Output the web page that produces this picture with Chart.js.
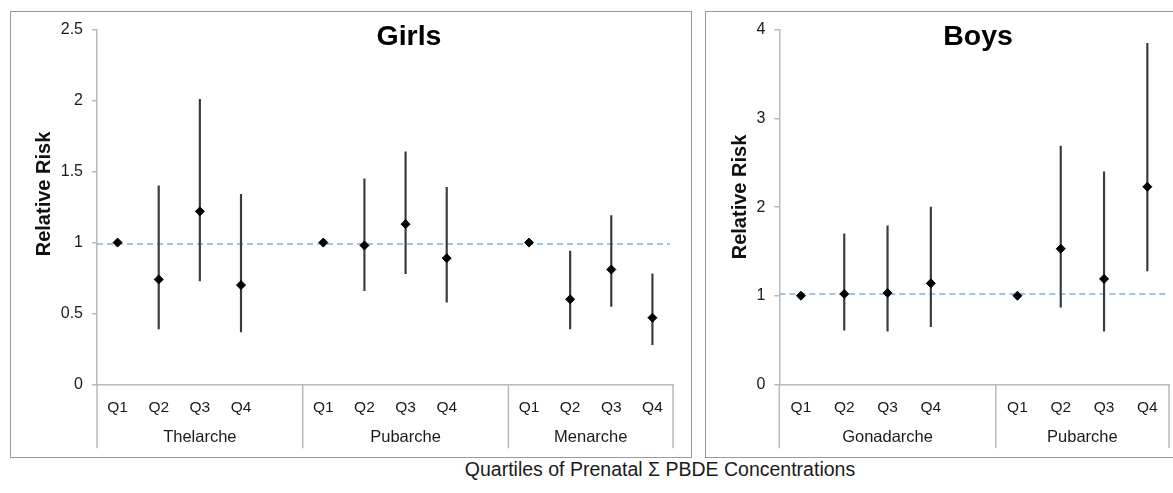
<!DOCTYPE html>
<html>
<head>
<meta charset="utf-8">
<script src="https://cdn.jsdelivr.net/npm/chart.js@4/dist/chart.umd.min.js"></script>
<style>
  html, body { margin: 0; padding: 0; background: #ffffff; }
  body { width: 1173px; height: 493px; position: relative; overflow: hidden; font-family: "Liberation Sans", Arial, sans-serif; }
  .box { position: absolute; box-sizing: border-box; border: 1.5px solid #9a9a9a; }
  canvas { position: absolute; }
  #caption { position: absolute; left: 0; width: 1320px; top: 457px; line-height: 24px; text-align: center; font-size: 19.5px; color: #1a1a1a; white-space: nowrap; }
</style>
</head>
<body>
<div class="box" style="left:10px;top:11px;width:682px;height:447px;"></div>
<div class="box" style="left:705px;top:11px;width:490px;height:447px;"></div>
<canvas id="girls" width="680" height="446" style="left:11px;top:11px;"></canvas>
<canvas id="boys" width="480" height="446" style="left:706px;top:11px;"></canvas>
<div id="caption">Quartiles of Prenatal Σ PBDE Concentrations</div>
<script>
// ---------- data ----------
const quartiles = ['Q1', 'Q2', 'Q3', 'Q4'];

const girlsGroups = ['Thelarche', 'Pubarche', 'Menarche'];
const girlsRR    = [1.00, 0.74, 1.22, 0.70,  1.00, 0.98, 1.13, 0.89,  1.00, 0.60, 0.81, 0.47];
const girlsLower = [null, 0.39, 0.73, 0.37,  null, 0.66, 0.78, 0.58,  null, 0.39, 0.55, 0.28];
const girlsUpper = [null, 1.40, 2.01, 1.34,  null, 1.45, 1.64, 1.39,  null, 0.94, 1.19, 0.78];
const girlsRef = 0.99;
const girlsYTicks = { min: 0, max: 2.5, step: 0.5 };

const boysGroups = ['Gonadarche', 'Pubarche'];
const boysRR    = [1.00, 1.02, 1.03, 1.14,  1.00, 1.53, 1.19, 2.23];
const boysLower = [null, 0.61, 0.60, 0.65,  null, 0.87, 0.60, 1.28];
const boysUpper = [null, 1.70, 1.79, 2.00,  null, 2.69, 2.40, 3.85];
const boysRef = 1.02;
const boysYTicks = { min: 0, max: 4, step: 1 };

// ---------- helpers ----------
function slotLabels(groups) {
  const out = [];
  groups.forEach((g, i) => {
    quartiles.forEach(q => out.push(q));
    if (i < groups.length - 1) out.push('');
  });
  return out;
}
function slotValues(values, groups) {
  const out = [];
  groups.forEach((g, i) => {
    for (let k = 0; k < quartiles.length; k++) out.push(values[i * quartiles.length + k]);
    if (i < groups.length - 1) out.push(null);
  });
  return out;
}
function slotIntervals(lo, hi, groups) {
  const l = slotValues(lo, groups), h = slotValues(hi, groups);
  return l.map((v, i) => (v === null || h[i] === null) ? null : [v, h[i]]);
}

const FONT = "'Liberation Sans', Arial, sans-serif";

const decorPlugin = {
  id: 'decor',
  beforeDatasetsDraw(chart, args, opts) {
    const { ctx, chartArea } = chart;
    const y = chart.scales.y.getPixelForValue(opts.refValue);
    ctx.save();
    ctx.strokeStyle = '#7db3e3';
    ctx.lineWidth = 1.6;
    ctx.setLineDash([6, 4]);
    ctx.beginPath();
    ctx.moveTo(chartArea.left, y);
    ctx.lineTo(chartArea.right - 3, y);
    ctx.stroke();
    ctx.restore();
  },
  afterDraw(chart, args, opts) {
    const { ctx } = chart;
    const xs = chart.scales.x;
    const y0 = chart.scales.y.getPixelForValue(0);
    const groups = opts.groups;
    const bounds = [];
    let idx = -0.5;
    groups.forEach((g, i) => {
      bounds.push(idx);
      idx += quartiles.length + (i < groups.length - 1 ? 1 : 0);
    });
    bounds.push(idx);
    ctx.save();
    ctx.strokeStyle = '#b9b9b9';
    ctx.lineWidth = 1.5;
    bounds.forEach(b => {
      const px = xs.getPixelForValue(b);
      ctx.beginPath();
      ctx.moveTo(px, y0);
      ctx.lineTo(px, y0 + 64);
      ctx.stroke();
    });
    ctx.fillStyle = '#1a1a1a';
    ctx.font = '16.5px ' + FONT;
    ctx.textAlign = 'center';
    ctx.textBaseline = 'middle';
    groups.forEach((g, i) => {
      const a = xs.getPixelForValue(bounds[i]);
      const b = xs.getPixelForValue(bounds[i + 1]);
      ctx.fillText(g, (a + b) / 2, y0 + 53);
    });
    // panel title
    ctx.font = 'bold 28.5px ' + FONT;
    ctx.fillStyle = '#000';
    ctx.fillText(opts.title, opts.titleX, opts.titleY);
    // y axis title
    ctx.translate(opts.yTitleX, opts.yTitleY);
    ctx.rotate(-Math.PI / 2);
    ctx.font = 'bold 20px ' + FONT;
    ctx.fillStyle = '#111';
    ctx.fillText('Relative Risk', 0, 0);
    ctx.restore();
  }
};

function makeChart(id, groups, rr, lo, hi, ref, yt, title, dims) {
  const labels = slotLabels(groups);
  return new Chart(document.getElementById(id), {
    type: 'bar',
    data: {
      labels: labels,
      datasets: [
        {
          type: 'line',
          data: slotValues(rr, groups),
          showLine: false,
          pointStyle: 'rectRot',
          pointRadius: 4.5,
          pointBorderWidth: 1,
          pointBackgroundColor: '#000',
          pointBorderColor: '#000',
          order: 0
        },
        {
          type: 'bar',
          data: slotIntervals(lo, hi, groups),
          backgroundColor: '#3a3a3a',
          borderWidth: 0,
          barThickness: 1.5,
          order: 1
        }
      ]
    },
    options: {
      responsive: false,
      animation: false,
      layout: { padding: { left: 0, top: dims.top, right: dims.right, bottom: 0 } },
      plugins: {
        legend: { display: false },
        tooltip: { enabled: false },
        decor: { groups: groups, refValue: ref, title: title, titleX: dims.titleX, titleY: dims.titleY,
                 yTitleX: dims.yTitleX, yTitleY: dims.yTitleY }
      },
      scales: {
        x: {
          type: 'category',
          offset: true,
          grid: { display: false },
          border: { display: true, color: '#b9b9b9', width: 1.5 },
          ticks: { autoSkip: false, maxRotation: 0, padding: 6, color: '#1a1a1a', font: { family: FONT, size: 15.5 } },
          afterFit(s) { s.height = dims.xHeight; }
        },
        y: {
          min: yt.min, max: yt.max,
          grid: { display: true, drawOnChartArea: false, drawTicks: true, tickLength: 5, color: '#b9b9b9', lineWidth: 1.5 },
          border: { display: true, color: '#b9b9b9', width: 1.5 },
          ticks: { stepSize: yt.step, padding: 9, color: '#1a1a1a', font: { family: FONT, size: 16 },
                   callback: v => String(+Number(v).toFixed(2)) },
          afterFit(s) { s.width = dims.yWidth; }
        }
      }
    },
    plugins: [decorPlugin]
  });
}

makeChart('girls', girlsGroups, girlsRR, girlsLower, girlsUpper, girlsRef, girlsYTicks, 'Girls',
  { top: 19, right: 18, xHeight: 72.7, yWidth: 86, titleX: 398, titleY: 26, yTitleX: 33, yTitleY: 183 });
makeChart('boys', boysGroups, boysRR, boysLower, boysUpper, boysRef, boysYTicks, 'Boys',
  { top: 19, right: 17, xHeight: 72.7, yWidth: 73.3, titleX: 272, titleY: 26, yTitleX: 34, yTitleY: 186 });
</script>
</body>
</html>
